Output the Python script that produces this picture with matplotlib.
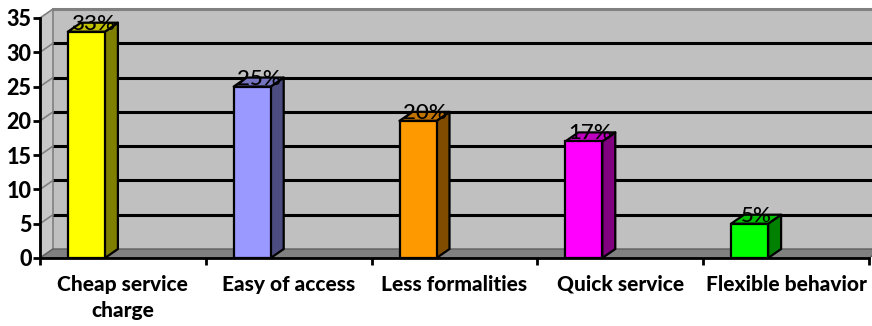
import matplotlib
matplotlib.use("Agg")
import matplotlib.pyplot as plt
from matplotlib.patches import Polygon

categories = ["Cheap service\ncharge", "Easy of access", "Less formalities", "Quick service", "Flexible behavior"]
values = [33, 25, 20, 17, 5]
pct_labels = ["33%", "25%", "20%", "17%", "5%"]
front_colors = ["#FFFF00", "#9999FF", "#FF9900", "#FF00FF", "#00FF00"]
side_colors = ["#808000", "#4C4C80", "#804C00", "#800080", "#008000"]
top_colors = ["#C0C000", "#7373C0", "#C07300", "#C000C0", "#00C000"]
yticks = [0, 5, 10, 15, 20, 25, 30, 35]

W, H = 872, 326
fig = plt.figure(figsize=(W / 100, H / 100), dpi=100)
px_per_unit = 240 / 35.0
ax_left, ax_right = 40, 869
ax_bot, ax_top = 258, 18
ax = fig.add_axes([ax_left / W, (H - ax_bot) / H, (ax_right - ax_left) / W, (ax_bot - ax_top) / H])
ax.set_xlim(0, 5)
ax.set_ylim(0, 35)

cat_px = (ax_right - ax_left) / 5.0
ddx = 13 / cat_px          # depth offset in data x
ddy = 9 / px_per_unit      # depth offset in data y

# back wall
wall = Polygon([(ddx, ddy), (5 + ddx + 0.2, ddy), (5 + ddx + 0.2, 35 + ddy), (ddx, 35 + ddy)],
               closed=True, facecolor="#C0C0C0", edgecolor="none", clip_on=False, zorder=0)
ax.add_patch(wall)
# side wall
side = Polygon([(0, 0), (ddx, ddy), (ddx, 35 + ddy), (0, 35)], closed=True,
               facecolor="#C8C8C8", edgecolor="#808080", linewidth=1.2, clip_on=False, zorder=0.5)
ax.add_patch(side)
# floor
floor = Polygon([(0, 0), (5, 0), (5 + ddx, ddy), (ddx, ddy)], closed=True,
                facecolor="#808080", edgecolor="#606060", linewidth=1, clip_on=False, zorder=0.6)
ax.add_patch(floor)
# top border of wall
ax.plot([ddx, 5 + ddx + 0.2], [35 + ddy, 35 + ddy], color="#808080", lw=2.2, clip_on=False, zorder=0.7)
# gridlines
for t in yticks[1:-1]:
    ax.plot([ddx, 5 + ddx + 0.2], [t + ddy, t + ddy], color="black", lw=2.2, clip_on=False, zorder=0.8,
            solid_capstyle="butt")
    ax.plot([0, ddx], [t, t + ddy], color="#808080", lw=1.2, clip_on=False, zorder=0.8)

# bars
offset_left = -55 / cat_px
bw = 37 / cat_px
for i, v in enumerate(values):
    x0 = i + 0.5 + offset_left
    ax.bar(x0, v, width=bw, align="edge", color=front_colors[i], edgecolor="black", linewidth=1.6, zorder=3)
    sidep = Polygon([(x0 + bw, 0), (x0 + bw + ddx, ddy), (x0 + bw + ddx, v + ddy), (x0 + bw, v)],
                    closed=True, facecolor=side_colors[i], edgecolor="black", linewidth=1.6, zorder=2.9,
                    joinstyle="round")
    ax.add_patch(sidep)
    topp = Polygon([(x0, v), (x0 + bw, v), (x0 + bw + ddx, v + ddy), (x0 + ddx, v + ddy)],
                   closed=True, facecolor=top_colors[i], edgecolor="black", linewidth=1.6, zorder=2.9,
                   joinstyle="round")
    ax.add_patch(topp)
    ax.text(x0 + bw / 2 + ddx / 2, v + 0.3, pct_labels[i], ha="center", va="baseline",
            fontsize=16, family="Lato", fontweight="medium", color="black", zorder=5)

# axes styling
for s in ["top", "right"]:
    ax.spines[s].set_visible(False)
ax.spines["left"].set_linewidth(2)
ax.spines["bottom"].set_linewidth(2)
ax.spines["left"].set_zorder(4)
ax.spines["bottom"].set_zorder(4)
ax.patch.set_visible(False)
ax.set_yticks(yticks)
ax.set_yticklabels([str(t) for t in yticks], fontsize=15.5, fontweight="black", family="Lato")
ax.set_xticks([0, 1, 2, 3, 4, 5])
ax.set_xticklabels([])
ax.set_xticks([i + 0.5 for i in range(5)], minor=True)
ax.set_xticklabels(categories, minor=True, fontsize=15, fontweight="black", family="Lato", linespacing=1.45)
ax.tick_params(axis="x", which="minor", length=0, pad=12)
ax.tick_params(axis="x", which="major", length=5, width=2, direction="out")
ax.tick_params(axis="y", length=5, width=2, direction="out", pad=1)

fig.savefig("out.png", dpi=100)
